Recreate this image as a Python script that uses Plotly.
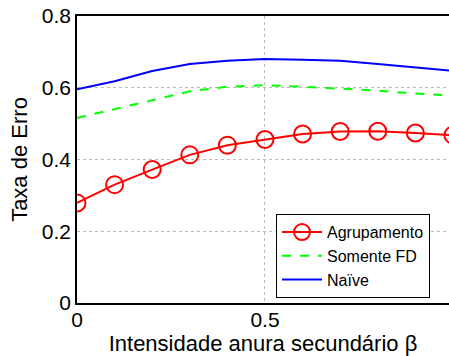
import plotly.graph_objects as go

x = [0, 0.1, 0.2, 0.3, 0.4, 0.5, 0.6, 0.7, 0.8, 0.9, 1.0]
agrupamento = [0.279, 0.330, 0.372, 0.413, 0.440, 0.456, 0.471, 0.478, 0.479, 0.474, 0.468]
somente_fd = [0.516, 0.541, 0.566, 0.590, 0.603, 0.607, 0.603, 0.598, 0.592, 0.584, 0.578]
naive = [0.596, 0.618, 0.647, 0.666, 0.675, 0.680, 0.678, 0.675, 0.666, 0.656, 0.647]
x_ticks = [0, 0.5]
x_ticklabels = ["0", "0.5"]
y_ticks = [0, 0.2, 0.4, 0.6, 0.8]
y_ticklabels = ["0", "0.2", "0.4", "0.6", "0.8"]

font = "Liberation Sans, Arial, Helvetica, sans-serif"

fig = go.Figure()
fig.add_trace(go.Scatter(x=x, y=agrupamento, name="Agrupamento", mode="lines+markers",
                         line=dict(color="#ff0000", width=2),
                         marker=dict(symbol="circle-open", size=17, color="#ff0000",
                                     line=dict(width=2, color="#ff0000"))))
fig.add_trace(go.Scatter(x=x, y=somente_fd, name="Somente FD", mode="lines",
                         line=dict(color="#00ff00", width=2, dash="dash")))
fig.add_trace(go.Scatter(x=x, y=naive, name="Naïve", mode="lines",
                         line=dict(color="#0000ff", width=2)))

fig.update_layout(
    width=449, height=356,
    margin=dict(l=77, r=0, t=16, b=53),
    paper_bgcolor="white", plot_bgcolor="white",
    font=dict(family=font, size=21, color="black"),
    showlegend=True,
    legend=dict(x=0.535, y=0.017, xanchor="left", yanchor="bottom",
                bgcolor="white", bordercolor="black", borderwidth=1,
                font=dict(size=16, family=font), tracegroupgap=0,
                itemwidth=40),
)
fig.update_xaxes(range=[0, 0.9894], tickvals=x_ticks, ticktext=x_ticklabels,
                 showline=True, linecolor="black", linewidth=1.5, mirror=True,
                 showgrid=True, gridcolor="#bbbbbb", griddash="dot", gridwidth=1,
                 zeroline=False, ticks="", ticklabelstandoff=-3,
                 title=dict(text="Intensidade anura secundário β", standoff=4,
                            font=dict(size=22)),
                 tickfont=dict(size=21))
fig.update_yaxes(range=[0, 0.8001], tickvals=y_ticks, ticktext=y_ticklabels,
                 showline=True, linecolor="black", linewidth=1.5,
                 showgrid=True, gridcolor="#bbbbbb", griddash="dot", gridwidth=1,
                 zeroline=False, ticks="",
                 title=dict(text="Taxa de Erro", standoff=8, font=dict(size=22)),
                 tickfont=dict(size=21))

fig.write_html("out.html",
               config={"displayModeBar": False},
               post_script="document.body.style.margin='0px';"
                           "document.documentElement.style.overflow='hidden';"
                           "document.body.style.overflow='hidden';")
